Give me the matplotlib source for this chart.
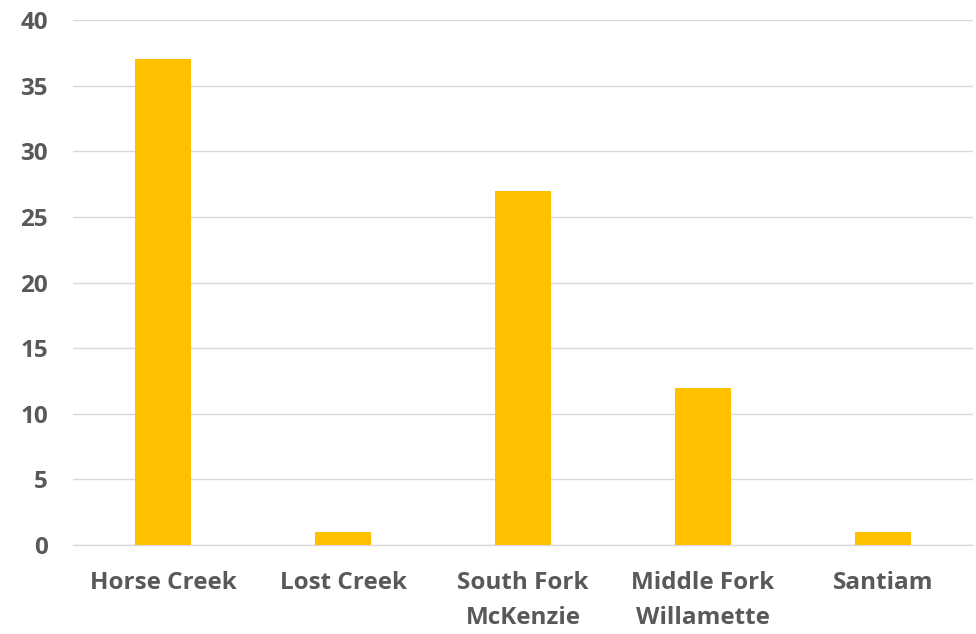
import matplotlib
matplotlib.use("Agg")
import matplotlib.pyplot as plt

categories = ["Horse Creek", "Lost Creek", "South Fork\nMcKenzie", "Middle Fork\nWillamette", "Santiam"]
values = [37, 1, 27, 12, 1]
yticks = [0, 5, 10, 15, 20, 25, 30, 35, 40]

plt.rcParams['font.family'] = ['Open Sans', 'DejaVu Sans']

fig = plt.figure(figsize=(9.76, 6.34), dpi=100)
ax = fig.add_axes([73/976, 1-545/634, 900/976, 525/634])

x = list(range(len(categories)))
ax.bar(x, values, width=0.31, color="#FFC000", zorder=3)
ax.set_xlim(-0.5, len(categories)-0.5)
ax.set_ylim(0, 40)
ax.set_yticks(yticks)
ax.set_xticks(x)
ax.set_xticklabels(categories)
ax.grid(axis='y', color="#D9D9D9", linewidth=1, zorder=0)
for s in ['top', 'right', 'left']:
    ax.spines[s].set_visible(False)
ax.spines['bottom'].set_color("#D9D9D9")
ax.spines['bottom'].set_linewidth(1)
ax.tick_params(axis='both', length=0, labelsize=17.5, labelcolor="#595959")
ax.tick_params(axis='x', pad=19)
ax.tick_params(axis='y', pad=18)
for lab in ax.get_xticklabels() + ax.get_yticklabels():
    lab.set_fontweight('bold')
    lab.set_linespacing(1.6)
for lab in ax.get_xticklabels():
    lab.set_verticalalignment('top')

fig.savefig("out.png", dpi=100)
